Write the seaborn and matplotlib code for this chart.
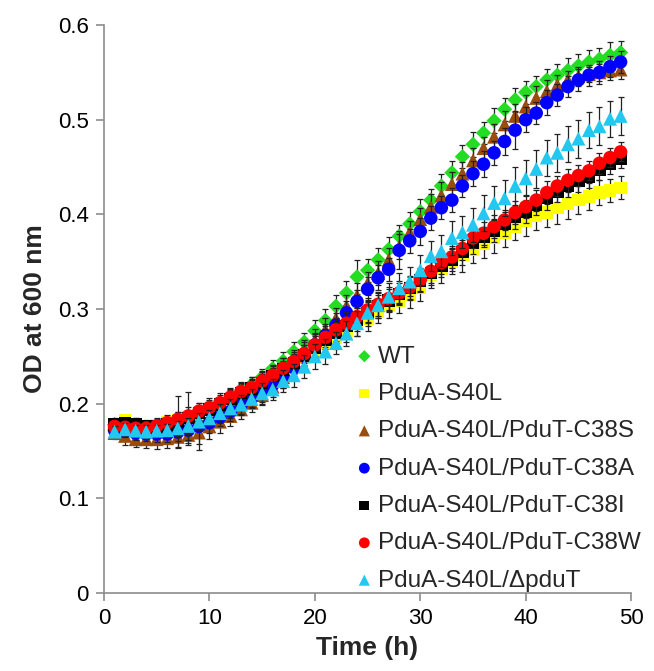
import numpy as np
import pandas as pd
import matplotlib
matplotlib.use("Agg")
import matplotlib.pyplot as plt
import seaborn as sns
from matplotlib.ticker import FuncFormatter

# ---------------- data ----------------
time_h = list(range(1, 50))

wt = [0.178, 0.176, 0.174, 0.173, 0.174, 0.176, 0.179, 0.183, 0.188, 0.193,
      0.199, 0.206, 0.213, 0.220, 0.228, 0.237, 0.245, 0.255, 0.265, 0.277,
      0.288, 0.303, 0.317, 0.334, 0.341, 0.352, 0.363, 0.377, 0.390, 0.403,
      0.415, 0.430, 0.444, 0.461, 0.474, 0.486, 0.499, 0.511, 0.521, 0.529,
      0.535, 0.542, 0.547, 0.552, 0.557, 0.561, 0.564, 0.568, 0.571]
s40l = [0.178, 0.183, 0.178, 0.176, 0.177, 0.180, 0.183, 0.186, 0.190, 0.194,
        0.199, 0.204, 0.210, 0.216, 0.222, 0.228, 0.235, 0.242, 0.249, 0.256,
        0.263, 0.270, 0.277, 0.284, 0.290, 0.297, 0.303, 0.309, 0.315, 0.322,
        0.336, 0.343, 0.350, 0.357, 0.363, 0.369, 0.375, 0.381, 0.387, 0.393,
        0.398, 0.402, 0.407, 0.411, 0.415, 0.419, 0.423, 0.425, 0.428]
c38s = [0.169, 0.166, 0.1625, 0.1625, 0.1625, 0.1635, 0.165, 0.167, 0.1695, 0.176,
        0.181, 0.187, 0.194, 0.201, 0.209, 0.218, 0.228, 0.240, 0.255, 0.267,
        0.278, 0.290, 0.303, 0.314, 0.327, 0.338, 0.352, 0.366, 0.381, 0.395,
        0.408, 0.420, 0.432, 0.443, 0.457, 0.470, 0.482, 0.495, 0.504, 0.514,
        0.523, 0.530, 0.537, 0.542, 0.546, 0.548, 0.550, 0.552, 0.553]
c38a = [0.172, 0.171, 0.169, 0.168, 0.168, 0.168, 0.170, 0.172, 0.176, 0.180,
        0.186, 0.192, 0.199, 0.206, 0.213, 0.220, 0.229, 0.238, 0.250, 0.262,
        0.272, 0.283, 0.296, 0.308, 0.321, 0.333, 0.342, 0.362, 0.372, 0.382,
        0.396, 0.407, 0.415, 0.430, 0.443, 0.453, 0.465, 0.477, 0.489, 0.500,
        0.507, 0.518, 0.526, 0.535, 0.542, 0.547, 0.550, 0.556, 0.561]
c38i = [0.178, 0.179, 0.178, 0.176, 0.176, 0.178, 0.181, 0.185, 0.190, 0.194,
        0.199, 0.205, 0.211, 0.216, 0.222, 0.229, 0.236, 0.243, 0.251, 0.259,
        0.267, 0.275, 0.282, 0.289, 0.296, 0.303, 0.309, 0.316, 0.322, 0.330,
        0.338, 0.346, 0.352, 0.360, 0.370, 0.376, 0.383, 0.390, 0.397, 0.403,
        0.410, 0.417, 0.424, 0.430, 0.435, 0.440, 0.447, 0.453, 0.459]
c38w = [0.176, 0.175, 0.174, 0.174, 0.1765, 0.180, 0.1835, 0.187, 0.192, 0.196,
        0.201, 0.207, 0.213, 0.217, 0.224, 0.230, 0.2375, 0.2445, 0.253, 0.262,
        0.270, 0.278, 0.285, 0.292, 0.299, 0.305, 0.311, 0.317, 0.323, 0.331,
        0.340, 0.349, 0.355, 0.364, 0.375, 0.380, 0.387, 0.394, 0.402, 0.408,
        0.415, 0.423, 0.430, 0.436, 0.441, 0.446, 0.454, 0.460, 0.466]
dpdut = [0.1705, 0.173, 0.1715, 0.1705, 0.1715, 0.172, 0.174, 0.1765, 0.181, 0.1845,
         0.190, 0.195, 0.199, 0.205, 0.211, 0.215, 0.224, 0.230, 0.239, 0.250,
         0.255, 0.264, 0.274, 0.285, 0.296, 0.304, 0.313, 0.322, 0.329, 0.341,
         0.356, 0.361, 0.375, 0.381, 0.389, 0.401, 0.412, 0.417, 0.430, 0.438,
         0.448, 0.460, 0.465, 0.474, 0.480, 0.489, 0.493, 0.501, 0.504]

wt_err = [0.006, 0.005, 0.006, 0.006, 0.007, 0.006, 0.007, 0.007, 0.008, 0.008,
          0.007, 0.008, 0.008, 0.008, 0.009, 0.009, 0.010, 0.010, 0.010, 0.011,
          0.012, 0.012, 0.013, 0.018, 0.012, 0.012, 0.013, 0.012, 0.012, 0.013,
          0.012, 0.013, 0.012, 0.012, 0.013, 0.012, 0.013, 0.012, 0.013, 0.012,
          0.011, 0.012, 0.012, 0.013, 0.012, 0.013, 0.012, 0.014, 0.012]
s40l_err = [0.006, 0.005, 0.007, 0.006, 0.006, 0.007, 0.008, 0.007, 0.008, 0.008,
            0.008, 0.008, 0.009, 0.009, 0.009, 0.010, 0.010, 0.010, 0.011, 0.011,
            0.011, 0.012, 0.012, 0.012, 0.013, 0.012, 0.013, 0.013, 0.014, 0.013,
            0.014, 0.015, 0.013, 0.018, 0.014, 0.015, 0.016, 0.015, 0.014, 0.016,
            0.014, 0.015, 0.017, 0.016, 0.015, 0.014, 0.013, 0.012, 0.012]
c38s_err = [0.006, 0.010, 0.008, 0.009, 0.010, 0.010, 0.012, 0.011, 0.012, 0.013,
            0.012, 0.011, 0.010, 0.010, 0.010, 0.011, 0.011, 0.011, 0.012, 0.012,
            0.012, 0.011, 0.012, 0.013, 0.012, 0.013, 0.012, 0.013, 0.012, 0.012,
            0.013, 0.014, 0.013, 0.012, 0.013, 0.012, 0.013, 0.014, 0.013, 0.012,
            0.013, 0.012, 0.010, 0.009, 0.010, 0.008, 0.009, 0.010, 0.010]
c38a_err = [0.006, 0.006, 0.007, 0.007, 0.008, 0.008, 0.009, 0.010, 0.025, 0.011,
            0.010, 0.010, 0.011, 0.010, 0.011, 0.011, 0.012, 0.012, 0.012, 0.013,
            0.012, 0.013, 0.012, 0.012, 0.013, 0.013, 0.012, 0.020, 0.013, 0.014,
            0.013, 0.012, 0.013, 0.012, 0.013, 0.014, 0.013, 0.014, 0.020, 0.013,
            0.012, 0.013, 0.012, 0.011, 0.012, 0.011, 0.012, 0.011, 0.012]
c38i_err = [0.007, 0.006, 0.007, 0.007, 0.008, 0.008, 0.027, 0.027, 0.009, 0.010,
            0.010, 0.010, 0.011, 0.010, 0.011, 0.011, 0.012, 0.012, 0.011, 0.012,
            0.012, 0.011, 0.012, 0.012, 0.011, 0.012, 0.012, 0.011, 0.012, 0.012,
            0.013, 0.012, 0.012, 0.013, 0.012, 0.011, 0.012, 0.013, 0.012, 0.012,
            0.011, 0.012, 0.011, 0.012, 0.011, 0.012, 0.011, 0.010, 0.010]
c38w_err = [0.006, 0.007, 0.007, 0.008, 0.008, 0.008, 0.008, 0.009, 0.009, 0.010,
            0.010, 0.010, 0.010, 0.011, 0.011, 0.011, 0.011, 0.012, 0.012, 0.012,
            0.012, 0.012, 0.012, 0.012, 0.013, 0.012, 0.012, 0.013, 0.012, 0.012,
            0.013, 0.012, 0.012, 0.012, 0.011, 0.012, 0.012, 0.011, 0.012, 0.012,
            0.011, 0.012, 0.011, 0.012, 0.011, 0.010, 0.011, 0.010, 0.010]
dpdut_err = [0.006, 0.007, 0.006, 0.007, 0.006, 0.007, 0.008, 0.008, 0.009, 0.009,
             0.010, 0.010, 0.010, 0.010, 0.011, 0.011, 0.012, 0.012, 0.012, 0.013,
             0.013, 0.012, 0.013, 0.013, 0.014, 0.014, 0.015, 0.016, 0.015, 0.016,
             0.016, 0.017, 0.018, 0.017, 0.018, 0.019, 0.018, 0.019, 0.020, 0.019,
             0.020, 0.019, 0.020, 0.019, 0.020, 0.019, 0.020, 0.019, 0.020]

labels = ["WT", "PduA-S40L", "PduA-S40L/PduT-C38S", "PduA-S40L/PduT-C38A",
          "PduA-S40L/PduT-C38I", "PduA-S40L/PduT-C38W", "PduA-S40L/\u0394pduT"]
series = [wt, s40l, c38s, c38a, c38i, c38w, dpdut]
errors = [wt_err, s40l_err, c38s_err, c38a_err, c38i_err, c38w_err, dpdut_err]
colors = ["#22DD22", "#FFFF00", "#994C0E", "#0000FF", "#000000", "#FF0000", "#22C8F0"]
markers = ["D", "s", "^", "o", "s", "o", "^"]
sizes = [60, 80, 100, 95, 80, 95, 100]

x_ticks = [0, 10, 20, 30, 40, 50]
y_ticks = [0, 0.1, 0.2, 0.3, 0.4, 0.5, 0.6]

# ---------------- plotting ----------------
sns.set_theme(style="white")
plt.rcParams["font.family"] = ["Liberation Sans", "DejaVu Sans"]

fig = plt.figure(figsize=(6.54, 6.71), dpi=100)
ax = fig.add_axes([0.159, 0.1162, 0.806, 0.8465])

rows = []
for lab, vals, errs in zip(labels, series, errors):
    for t, v, e in zip(time_h, vals, errs):
        rows.append({"Time": t, "OD": v, "err": e, "Strain": lab})
df = pd.DataFrame(rows)

handles = []
for i, lab in enumerate(labels):
    sub = df[df["Strain"] == lab]
    ax.errorbar(sub["Time"], sub["OD"], yerr=sub["err"], fmt="none",
                ecolor="#222222", elinewidth=0.9, capsize=2.5, capthick=0.9,
                zorder=2 + 2 * i)
    sns.scatterplot(data=sub, x="Time", y="OD", marker=markers[i], color=colors[i],
                    s=sizes[i], linewidth=0, edgecolor="none", ax=ax,
                    label=lab, zorder=3 + 2 * i, legend=False)
    handles.append(ax.collections[-1])

ax.set_xlim(0, 50)
ax.set_ylim(0, 0.6)
ax.set_xticks(x_ticks)
ax.set_yticks(y_ticks)
ax.yaxis.set_major_formatter(FuncFormatter(lambda v, p: "0" if abs(v) < 1e-9 else f"{v:.1f}"))

for side in ["top", "right"]:
    ax.spines[side].set_visible(False)
for side in ["left", "bottom"]:
    ax.spines[side].set_color("#8C8C8C")
    ax.spines[side].set_linewidth(1.2)
ax.tick_params(axis="both", direction="out", length=6, width=1.2, color="#8C8C8C",
               labelsize=16, labelcolor="black", pad=5)
ax.tick_params(left=True, bottom=True)

ax.set_xlabel("Time (h)", fontsize=19, fontweight="bold", labelpad=5)
ax.set_ylabel("OD at 600 nm", fontsize=19, fontweight="bold", labelpad=8)

leg = ax.legend(handles, labels, loc="upper left", bbox_to_anchor=(0.545, 0.485),
                bbox_transform=fig.transFigure, frameon=False, fontsize=17.5,
                handlelength=0.65, handletextpad=0.25, labelspacing=0.63,
                borderpad=0, borderaxespad=0, scatterpoints=1, markerscale=0.8)

fig.savefig("out.png", dpi=100)
